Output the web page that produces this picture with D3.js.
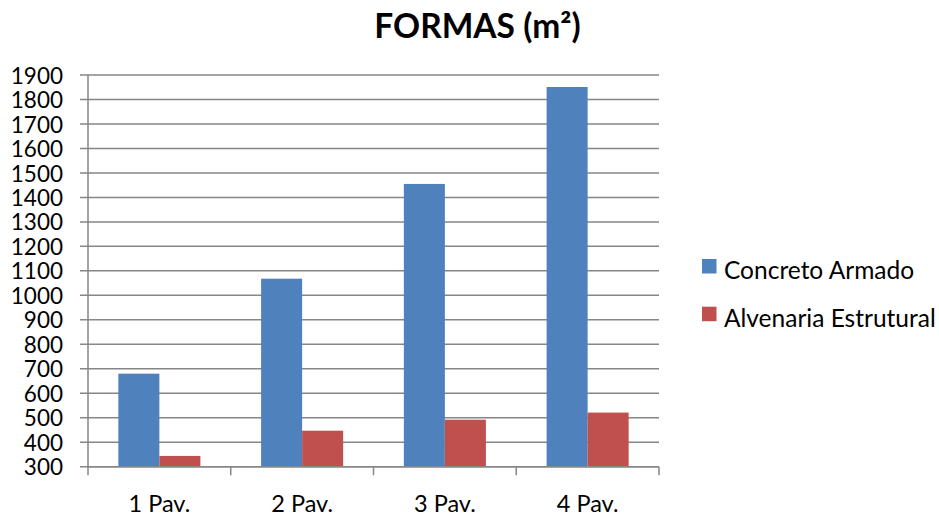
<!DOCTYPE html>
<html>
<head>
<meta charset="utf-8">
<script src="https://cdn.jsdelivr.net/npm/d3@7"></script>
<style>
  html, body { margin: 0; padding: 0; background: #fff; }
  svg { display: block; }
  text { font-family: Lato, "Open Sans", sans-serif; fill: #000; }
</style>
</head>
<body>
<svg id="chart" width="939" height="518"></svg>
<script>
// Categories and series
const categories = ["1 Pav.", "2 Pav.", "3 Pav.", "4 Pav."];
const seriesNames = ["Concreto Armado", "Alvenaria Estrutural"];
const concretoArmado = [680, 1068, 1455, 1851];
const alvenariaEstrutural = [344, 447, 492, 521];
const seriesColors = ["#4F81BD", "#C0504D"];
const yTicks = [300, 400, 500, 600, 700, 800, 900, 1000, 1100, 1200, 1300, 1400, 1500, 1600, 1700, 1800, 1900];
const titleText = "FORMAS (m²)";

const seriesValues = [concretoArmado, alvenariaEstrutural];
const svg = d3.select("#chart");

const plot = { left: 88, right: 659, top: 75, bottom: 466.7 };
const gridColor = "#868686";

const x = d3.scaleBand().domain(categories).range([plot.left, plot.right]).padding(0);
const xs = d3.scaleBand().domain(seriesNames).range([0, x.bandwidth()])
  .paddingInner(0).paddingOuter(0.74);
const y = d3.scaleLinear().domain([300, 1900]).range([plot.bottom, plot.top]);

// Horizontal gridlines
svg.append("g")
  .selectAll("line")
  .data(yTicks)
  .join("line")
  .attr("x1", plot.left - 8)
  .attr("x2", plot.right)
  .attr("y1", d => y(d))
  .attr("y2", d => y(d))
  .attr("stroke", gridColor)
  .attr("stroke-width", 1.5);

// Y axis labels
const yAxis = d3.axisLeft(y).tickValues(yTicks).tickSize(0).tickPadding(25).tickFormat(d3.format("d"));
const yg = svg.append("g").attr("transform", `translate(${plot.left},0)`).call(yAxis);
yg.select(".domain").remove();
yg.selectAll("text").style("font-size", "22.5px").style("font-family", "Lato, sans-serif").attr("fill", "#000");
yg.selectAll("text").attr("dy", "0.36em");

// Y axis line
svg.append("line")
  .attr("x1", plot.left).attr("x2", plot.left)
  .attr("y1", plot.top).attr("y2", plot.bottom)
  .attr("stroke", gridColor).attr("stroke-width", 1.5);

// Bars
const groups = svg.append("g")
  .selectAll("g")
  .data(categories)
  .join("g")
  .attr("transform", d => `translate(${x(d)},0)`);

groups.selectAll("rect")
  .data((c, i) => seriesNames.map((s, k) => ({ s, k, v: seriesValues[k][i] })))
  .join("rect")
  .attr("x", d => xs(d.s))
  .attr("width", xs.bandwidth())
  .attr("y", d => y(d.v))
  .attr("height", d => y(300) - y(d.v))
  .attr("fill", d => seriesColors[d.k]);

// X axis with category boundary ticks
const xBoundaries = categories.map(c => x(c)).concat([plot.right]);
svg.append("line")
  .attr("x1", plot.left).attr("x2", plot.right)
  .attr("y1", plot.bottom).attr("y2", plot.bottom)
  .attr("stroke", gridColor).attr("stroke-width", 1.5);
svg.append("g")
  .selectAll("line")
  .data(xBoundaries)
  .join("line")
  .attr("x1", d => d).attr("x2", d => d)
  .attr("y1", plot.bottom).attr("y2", plot.bottom + 8.5)
  .attr("stroke", gridColor).attr("stroke-width", 1.5);

// X labels
svg.append("g")
  .selectAll("text")
  .data(categories)
  .join("text")
  .attr("x", d => x(d) + x.bandwidth() / 2)
  .attr("y", 512)
  .attr("text-anchor", "middle")
  .style("font-size", "23.5px")
  .text(d => d);

// Title
svg.append("text")
  .attr("x", 477.5)
  .attr("y", 38)
  .attr("text-anchor", "middle")
  .style("font-size", "33.5px")
  .style("font-weight", "bold")
  .text(titleText);

// Legend
const legend = svg.append("g")
  .selectAll("g")
  .data(seriesNames)
  .join("g")
  .attr("transform", (d, i) => `translate(702,${259 + i * 47.7})`);
legend.append("rect")
  .attr("width", 14.5).attr("height", 14.5)
  .attr("fill", (d, i) => seriesColors[i]);
legend.append("text")
  .attr("x", 22)
  .attr("y", 20)
  .style("font-size", "24.5px")
  .text(d => d);
</script>
</body>
</html>
